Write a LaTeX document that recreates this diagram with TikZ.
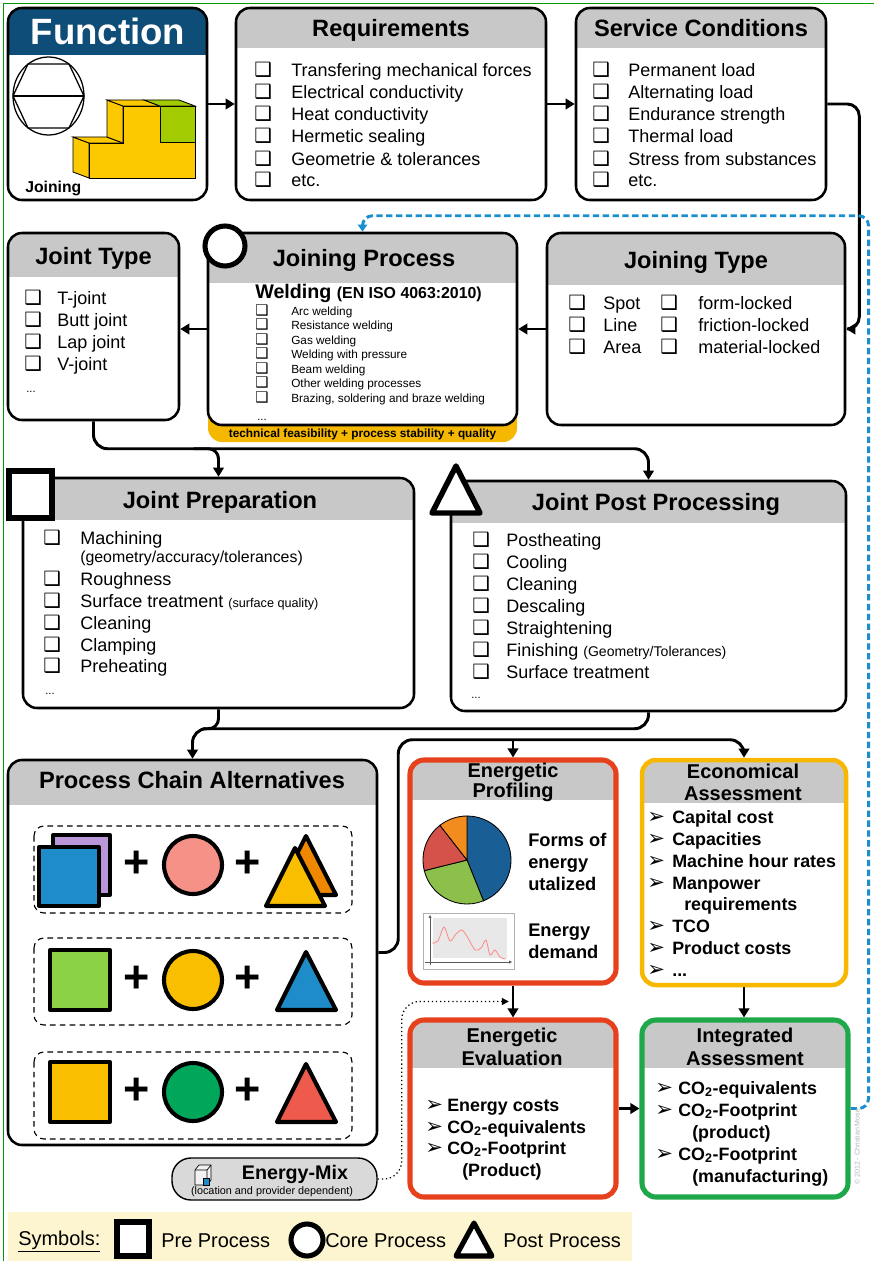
\documentclass[tikz,border=0pt]{standalone}
\usepackage{fontspec}
\setmainfont{Liberation Sans}
\newfontfamily\dingfont{DejaVu Sans}
\usetikzlibrary{calc,fit,arrows.meta}

% one drawing unit
\newlength{\pu}
\setlength{\pu}{0.025cm}

\definecolor{hdgray}{RGB}{200,200,200}
\definecolor{funblue}{RGB}{14,77,120}
\definecolor{procred}{RGB}{230,64,28}
\definecolor{econyellow}{RGB}{248,184,0}
\definecolor{integgreen}{RGB}{30,168,74}
\definecolor{linkblue}{RGB}{26,143,208}
\definecolor{qualyellow}{RGB}{245,183,0}
\definecolor{legendbg}{RGB}{253,245,207}
\definecolor{blockyellow}{RGB}{252,200,0}
\definecolor{blockgreen}{RGB}{163,204,0}
\definecolor{symviolet}{RGB}{185,150,215}
\definecolor{symblue}{RGB}{30,140,200}
\definecolor{symsalmon}{RGB}{245,145,135}
\definecolor{symorange}{RGB}{240,135,0}
\definecolor{symyellow}{RGB}{250,190,0}
\definecolor{symlime}{RGB}{140,210,70}
\definecolor{symgreen}{RGB}{0,166,90}
\definecolor{symred}{RGB}{238,90,75}
\definecolor{pieblue}{RGB}{26,94,150}
\definecolor{piegreen}{RGB}{141,192,74}
\definecolor{piered}{RGB}{212,82,74}
\definecolor{pieorange}{RGB}{242,140,30}

\newcommand{\cb}{{\dingfont\fontsize{14}{14}\selectfont ❑}}
\newcommand{\cbs}{{\dingfont\fontsize{10.5}{10}\selectfont ❑}}
\newcommand{\arw}{{\dingfont\fontsize{15}{14}\selectfont ➢}}

\tikzset{
  panel/.style 2 args={draw, line width=1.8pt, rounded corners=14\pu, fill=white, inner sep=0pt,
    path picture={\fill[#2, sharp corners] (path picture bounding box.north west) rectangle ([yshift=-#1\pu]path picture bounding box.north east);}},
  hd/.style={font=\bfseries\fontsize{16.8}{18}\selectfont, anchor=base, inner sep=0pt},
  chd/.style={font=\bfseries\fontsize{14.2}{15}\selectfont, anchor=base, inner sep=0pt},
  itm/.style={font=\fontsize{12.8}{15}\selectfont, anchor=base west, inner sep=0pt},
  sitm/.style={itm, font=\fontsize{8.4}{10}\selectfont},
  bitm/.style={itm, font=\bfseries\fontsize{12.7}{15}\selectfont},
  etcdots/.style={itm, font=\fontsize{8}{9}\selectfont},
  link/.style={line width=2.1pt},
  arr/.style={link, -{Triangle[length=6.5pt,width=7.5pt]}},
  blink/.style={linkblue, line width=2.1pt, dash pattern=on 4.5pt off 2.5pt, -{Triangle[length=5pt,width=6.5pt]}},
  dotarr/.style={line width=0.9pt, dotted, -{Triangle[length=5pt,width=5pt]}},
  sym/.style={line width=2.9pt, line join=round},
  plussign/.style={font=\bfseries\fontsize{32}{32}\selectfont, inner sep=0pt},
  legt/.style={font=\fontsize{14.2}{15}\selectfont, anchor=base west, inner sep=0pt}
}

\begin{document}
\begin{tikzpicture}[x=\pu, y=-\pu]
\useasboundingbox (0,0) rectangle (874,1261);
\draw[green!60!black, line width=0.6pt] (3,1261) -- (3,3) -- (874,3);

% --- function ---
\node[panel={47}{funblue}, fit={(8,8)(207,200)}] (fun) {};
\node[font=\bfseries\fontsize{26}{26}\selectfont, text=white, anchor=base, inner sep=0pt] (fun-t) at (108,45) {Function};
\draw[line width=0.9pt] (48.5,96) ellipse (35.5 and 39);
\draw[line width=0.9pt] (13,96) -- (84,96);
\draw[line width=0.9pt] (28,64) -- (69,64) -- (84,96) -- (69,128) -- (28,128) -- (13,96) -- cycle;
% stepped block
\filldraw[fill=blockyellow, line width=0.6pt] (89,143) -- (89,178) -- (73,172) -- (73,137) -- cycle;
\filldraw[fill=blockyellow, line width=0.6pt] (89,143) -- (123,143) -- (107,137) -- (73,137) -- cycle;
\filldraw[fill=blockyellow, line width=0.6pt] (123,143) -- (123,106) -- (107,100) -- (107,137) -- cycle;
\filldraw[fill=blockyellow, line width=0.6pt] (123,106) -- (160,106) -- (144,100) -- (107,100) -- cycle;
\filldraw[fill=blockgreen, line width=0.6pt] (160,106) -- (195,106) -- (179,100) -- (144,100) -- cycle;
\filldraw[fill=blockyellow, line width=0.6pt] (89,143) -- (123,143) -- (123,106) -- (195,106) -- (195,178) -- (89,178) -- cycle;
\filldraw[fill=blockgreen, line width=0.6pt] (160,106) rectangle (195,142);
\node[font=\bfseries\fontsize{11.2}{12}\selectfont, anchor=base west, inner sep=0pt] (fun-l) at (25,192) {Joining};

% --- requirements ---
\node[panel={40}{hdgray}, fit={(236,8)(546,200)}] (req) {};
\node[hd] (req-t) at (391,36.5) {Requirements};
\foreach \txt [count=\i] in {Transfering mechanical forces, Electrical conductivity, Heat conductivity, Hermetic sealing, Geometrie \& tolerances, etc.}
  \node[itm] (req-\i) at (254,55+22*\i) {\makebox[37\pu][l]{\cb}\txt};

% --- service conditions ---
\node[panel={40}{hdgray}, fit={(576,8)(826,200)}] (sc) {};
\node[hd] (sc-t) at (701,36.5) {Service Conditions};
\foreach \txt [count=\i] in {Permanent load, Alternating load, Endurance strength, Thermal load, Stress from substances, etc.}
  \node[itm] (sc-\i) at (592,55+22*\i) {\makebox[36\pu][l]{\cb}\txt};

% --- joint type ---
\node[panel={44}{hdgray}, fit={(8,233)(179,420)}] (jtype) {};
\node[hd] (jtype-t) at (93.5,264.5) {Joint Type};
\foreach \txt [count=\i] in {T-joint, Butt joint, Lap joint, V-joint}
  \node[itm] (jtype-\i) at (24,282+22*\i) {\makebox[33\pu][l]{\cb}\txt};
\node[etcdots] (jtype-5) at (26,392) {...};

% --- joining process ---
\node[fill=qualyellow, rounded corners=14\pu, inner sep=0pt, fit={(208,395)(517,442)}] (qual) {};
\node[font=\bfseries\fontsize{8.4}{9}\selectfont, anchor=base, inner sep=0pt] (qual-t) at (362.5,437) {technical feasibility + process stability + quality};
\node[panel={50}{hdgray}, fit={(208,233)(517,425)}] (jproc) {};
\node[hd] (jproc-t) at (364,266.5) {Joining Process};
\node[itm, font=\bfseries\fontsize{14}{14}\selectfont] (weld) at (255,298) {Welding {\fontsize{11.3}{12}\selectfont (EN ISO 4063:2010)}};
\foreach \txt [count=\i] in {Arc welding, Resistance welding, Gas welding, Welding with pressure, Beam welding, Other welding processes, {Brazing, soldering and braze welding}}
  \node[sitm] (jproc-\i) at (255,300.5+14.5*\i) {\makebox[36\pu][l]{\cbs}\txt};
\node[etcdots] (jproc-8) at (257,420) {...};
\filldraw[fill=white, line width=3.6pt] (225,246) circle (20);

% --- joining type ---
\node[panel={52}{hdgray}, fit={(547,233)(845,425)}] (jgtype) {};
\node[hd] (jgtype-t) at (696,268.5) {Joining Type};
\foreach \a/\b [count=\i] in {Spot/form-locked, Line/friction-locked, Area/material-locked} {
  \node[itm] (jgtype-a\i) at (568,287+22*\i) {\makebox[35\pu][l]{\cb}\a};
  \node[itm] (jgtype-b\i) at (660,287+22*\i) {\makebox[38\pu][l]{\cb}\b};
}

% --- joint preparation ---
\node[panel={42}{hdgray}, fit={(23,478)(414,708)}] (prep) {};
\node[hd] (prep-t) at (220,508.5) {Joint Preparation};
\foreach \txt/\y [count=\i] in {Machining/544, Roughness/585, {Surface treatment {\fontsize{9}{9}\selectfont(surface quality)}}/607, Cleaning/629, Clamping/651, Preheating/672}
  \node[itm] (prep-\i) at (43,\y) {\makebox[37\pu][l]{\cb}\txt};
\node[itm, font=\fontsize{11.3}{12}\selectfont] (prep-sub) at (80,562) {(geometry/accuracy/tolerances)};
\node[etcdots] (prep-7) at (45,694) {...};
\filldraw[fill=white, line width=3.9pt] (9,471) rectangle (52,518);

% --- joint post processing ---
\node[panel={42}{hdgray}, fit={(451,481)(846,711)}] (post) {};
\node[hd] (post-t) at (656,510.5) {Joint Post Processing};
\foreach \txt [count=\i] in {Postheating, Cooling, Cleaning, Descaling, Straightening, {Finishing {\fontsize{10}{10}\selectfont(Geometry/Tolerances)}}, Surface treatment}
  \node[itm] (post-\i) at (472,524+22*\i) {\makebox[34\pu][l]{\cb}\txt};
\node[etcdots] (post-8) at (471,698) {...};
\filldraw[fill=white, line width=3.9pt, line join=round] (456,466) -- (480,513) -- (432,513) -- cycle;

% --- process chain alternatives ---
\node[panel={45}{hdgray}, fit={(8,760)(377,1145)}] (chain) {};
\node[hd] (chain-t) at (192,788.5) {Process Chain Alternatives};
\foreach \y in {826,938,1052}
  \draw[line width=0.8pt, dash pattern=on 4pt off 3pt, rounded corners=10\pu] (34,\y) rectangle (352,\y+87);
% first chain
\filldraw[sym, fill=symviolet] (53,835) rectangle (110,895);
\filldraw[sym, fill=symblue] (39,847) rectangle (99,906);
\node[plussign] (pa1) at (137,864) {+};
\filldraw[sym, fill=symsalmon] (193,865) circle (29);
\node[plussign] (pa2) at (248,864) {+};
\filldraw[sym, fill=symorange] (306,836) -- (336,895) -- (276,895) -- cycle;
\filldraw[sym, fill=symyellow] (295,848) -- (325,906) -- (266,906) -- cycle;
% second chain
\filldraw[sym, fill=symlime] (50,950) rectangle (110,1010);
\node[plussign] (pb1) at (137,979) {+};
\filldraw[sym, fill=symyellow] (193,980) circle (29);
\node[plussign] (pb2) at (248,979) {+};
\filldraw[sym, fill=symblue] (306,952) -- (336,1010) -- (277,1010) -- cycle;
% third chain
\filldraw[sym, fill=symyellow] (50,1062) rectangle (110,1122);
\node[plussign] (pc1) at (137,1091) {+};
\filldraw[sym, fill=symgreen] (193,1092) circle (29);
\node[plussign] (pc2) at (248,1091) {+};
\filldraw[sym, fill=symred] (306,1064) -- (336,1122) -- (277,1122) -- cycle;

% --- energetic profiling ---
\node[panel={40}{hdgray}, draw=procred, line width=3.6pt, fit={(410,760)(616,983)}] (prof) {};
\node[chd] (prof-t1) at (513,777) {Energetic};
\node[chd] (prof-t2) at (513,797) {Profiling};
\begin{scope}[shift={(467,860)}, yscale=-1, line width=0.6pt]
  \filldraw[fill=pieblue] (0,0) -- (90:44) arc[start angle=90, end angle=-68, radius=44] -- cycle;
  \filldraw[fill=piegreen] (0,0) -- (-68:44) arc[start angle=-68, end angle=-166, radius=44] -- cycle;
  \filldraw[fill=piered] (0,0) -- (194:44) arc[start angle=194, end angle=128, radius=44] -- cycle;
  \filldraw[fill=pieorange] (0,0) -- (128:44) arc[start angle=128, end angle=90, radius=44] -- cycle;
\end{scope}
\draw[gray!60, line width=0.5pt] (423,913) rectangle (514,969);
\fill[gray!18] (433,918) rectangle (507,958);
\draw[gray!70!black, line width=0.4pt, -{Triangle[length=2pt,width=2pt]}] (430,965) -- (430,915);
\draw[gray!70!black, line width=0.4pt, -{Triangle[length=2pt,width=2pt]}] (425,962) -- (512,962);
\draw[red!45, line width=0.6pt] plot[smooth] coordinates {(432,943) (438,941) (444,927) (450,941) (456,934) (462,930) (468,938) (475,950) (481,948) (486,940) (490,955) (495,950) (500,957) (506,959)};
\foreach \txt/\y [count=\i] in {Forms of/846, energy/868, utalized/890, Energy/936, demand/958}
  \node[bitm, font=\bfseries\fontsize{13}{15}\selectfont] (prof-\i) at (528,\y) {\txt};

% --- economical assessment ---
\node[panel={43}{hdgray}, draw=econyellow, line width=3.2pt, fit={(642,760)(846,985)}] (econ) {};
\node[chd] (econ-t1) at (743,778) {Economical};
\node[chd] (econ-t2) at (743,800) {Assessment};
\foreach \txt/\y [count=\i] in {Capital cost/823, Capacities/845, Machine hour rates/867, Manpower/889, TCO/932, Product costs/954}
  \node[bitm] (econ-\i) at (647,\y) {\makebox[25\pu][l]{\arw}\txt};
\node[bitm] (econ-4b) at (684,910) {requirements};
\node[bitm] (econ-7) at (647,976) {\makebox[25\pu][l]{\arw}...};

% --- energetic evaluation ---
\node[panel={48}{hdgray}, draw=procred, line width=3.6pt, fit={(410,1020)(616,1197)}] (eval) {};
\node[chd] (eval-t1) at (512,1042) {Energetic};
\node[chd] (eval-t2) at (512,1065) {Evaluation};
\foreach \txt/\y [count=\i] in {Energy costs/1111, CO\textsubscript{2}-equivalents/1133, CO\textsubscript{2}-Footprint/1154}
  \node[bitm] (eval-\i) at (425,\y) {\makebox[22\pu][l]{\arw}\txt};
\node[bitm] (eval-3b) at (462,1176) {(Product)};

% --- integrated assessment ---
\node[panel={48}{hdgray}, draw=integgreen, line width=3.6pt, fit={(642,1020)(848,1197)}] (integ) {};
\node[chd] (integ-t1) at (745,1042) {Integrated};
\node[chd] (integ-t2) at (745,1065) {Assessment};
\foreach \txt/\y [count=\i] in {CO\textsubscript{2}-equivalents/1094, CO\textsubscript{2}-Footprint/1116, CO\textsubscript{2}-Footprint/1160}
  \node[bitm] (integ-\i) at (655,\y) {\makebox[23\pu][l]{\arw}\txt};
\node[bitm] (integ-2b) at (692,1138) {(product)};
\node[bitm] (integ-3b) at (692,1182) {(manufacturing)};

% --- energy mix ---
\node[draw, fill=gray!30, line width=1pt, rounded corners=19\pu, inner sep=0pt, fit={(172,1158)(377,1200)}] (mix) {};
\filldraw[fill=gray!10, line width=0.5pt] (195,1170) -- (199,1165) -- (211,1165) -- (211,1180) -- (207,1185) -- (195,1185) -- cycle;
\draw[line width=0.5pt] (195,1170) -- (207,1170) -- (211,1165) (207,1170) -- (207,1185);
\filldraw[fill=symblue, line width=0.4pt] (203,1178) rectangle (209,1185);
\node[font=\bfseries\fontsize{14}{14}\selectfont, anchor=base, inner sep=0pt] (mix-t) at (295,1179) {Energy-Mix};
\node[font=\fontsize{7.7}{8}\selectfont, anchor=base, inner sep=0pt] (mix-s) at (272,1194) {(location and provider dependent)};

% --- connectors ---
\draw[arr] (fun) -- (req);
\draw[arr] (req) -- (sc);
\draw[arr, rounded corners=12\pu] (sc.east) -- ++(32,0) |- (jgtype.east);
\draw[arr] (jgtype) -- (jproc);
\draw[arr] (jproc.west) -- (jproc.west -| jtype.east);
\draw[arr, rounded corners=14\pu] (jtype.south) |- ($(post.north)+(0,-31)$) -- (post.north);
\draw[arr, rounded corners=10\pu] ($(prep.north)+(-25,-28)$) -| (prep.north);
\draw[arr, rounded corners=14\pu] (post.south) |- ($(chain.north)+(0,-30)$) -- (chain.north);
\draw[link, rounded corners=10\pu] (prep.south) |- ($(chain.north)+(10,-30)$);
\draw[arr, rounded corners=14\pu] (chain.east) -- ++(20,0) |- ($(econ.north)+(0,-18)$) -- (econ.north);
\draw[arr] ($(prof.north)+(0,-18)$) -- (prof.north);
\draw[arr] (prof) -- (eval);
\draw[arr] (econ.south) -- (econ.south |- integ.north);
\draw[arr] (eval) -- (integ);
\coordinate (mixin) at ($(prof.south)!0.5!(eval.north)$);
\draw[dotarr, rounded corners=18\pu, shorten >=3pt] (mix.east) -- ++(24,0) |- (mixin);
\draw[blink, rounded corners=10\pu] (integ.east) -- ++(18,0) |- ($(jproc.north)+(0,-16)$) -- (jproc.north);

\node[rotate=90, font=\fontsize{5}{5}\selectfont, text=gray!60, anchor=west, inner sep=0pt] (copy) at (857,1185) {© 2012 - Christian Mose};

% --- symbols ---
\fill[legendbg] (8,1212) rectangle (632,1261);
\node[legt] (leg-t) at (18,1245) {\underline{Symbols:}};
\filldraw[fill=white, line width=3.6pt] (117,1222) rectangle (149,1256);
\node[legt] (leg-pre) at (161,1247) {Pre Process};
\filldraw[fill=white, line width=3.6pt] (307,1240) circle (16);
\node[legt] (leg-core) at (325,1247) {Core Process};
\filldraw[fill=white, line width=3.6pt, line join=round] (474,1223) -- (492,1256) -- (456,1256) -- cycle;
\node[legt] (leg-post) at (503,1247) {Post Process};
\end{tikzpicture}
\end{document}
